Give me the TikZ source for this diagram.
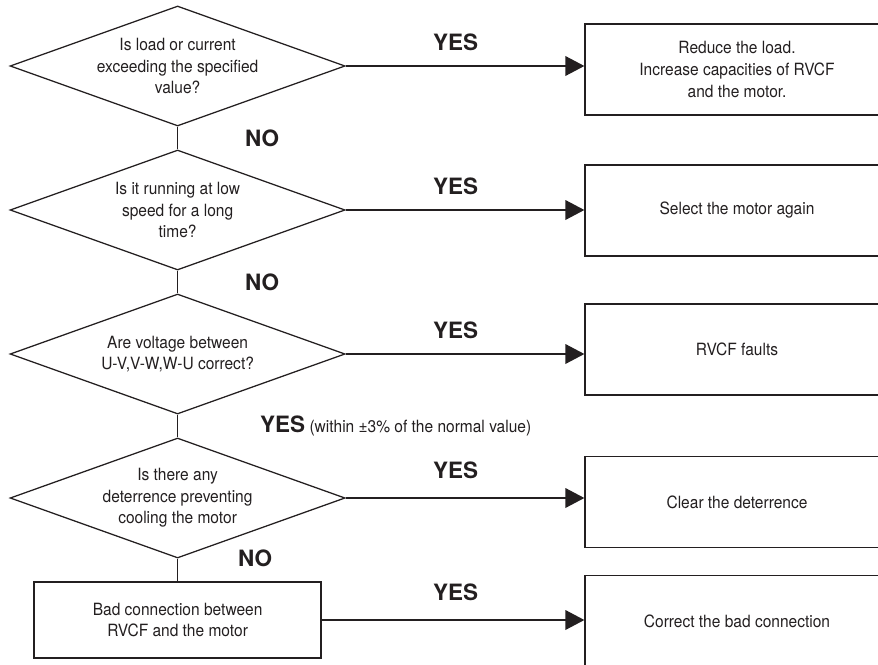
\documentclass[tikz,border=0pt]{standalone}
\usepackage{fontspec}
\setmainfont{TeX Gyre Heros}[FakeStretch=0.92]
\newfontfamily\headfont{TeX Gyre Heros}
\usepackage{xcolor}
\definecolor{lnblack}{RGB}{35,31,32}
\usepackage{tikz}
\usetikzlibrary{shapes.geometric,arrows.meta,positioning}
\newcommand{\answtxt}{\headfont\bfseries\fontsize{16}{19}\selectfont}
\tikzset{
  query/.style={draw=lnblack, diamond, aspect=2.79, inner sep=0pt, minimum width=8.375cm, minimum height=3cm, align=center, line width=0.9pt, text=lnblack, font=\fontsize{12}{15.4}\selectfont},
  proc/.style={draw=lnblack, rectangle, inner sep=0pt, minimum width=7.6cm, minimum height=2.275cm, align=center, line width=0.9pt, text=lnblack, font=\fontsize{12}{15.4}\selectfont},
  link/.style={draw=lnblack, line width=0.9pt},
  arr/.style={link, -{Triangle[length=13.5pt,width=14pt]}},
  answ/.style={inner sep=0pt, text=lnblack, font=\answtxt},
  note/.style={inner sep=0pt, text=lnblack, font=\fontsize{12}{15.4}\selectfont}
}

\begin{document}
\begin{tikzpicture}
  \useasboundingbox (0,0) rectangle (21.95,-16.6);
  \clip (0,0) rectangle (21.95,-16.6);
  \node[query] (q1) at (4.44,-1.65) {Is load or current\\exceeding the specified\\value?};
  \node[query] (q2) at (4.44,-5.25) {Is it running at low\\speed for a long\\time?};
  \node[query] (q3) at (4.44,-8.85) {Are voltage between\\U-V,V-W,W-U correct?};
  \node[query] (q4) at (4.44,-12.45) {Is there any\\deterrence preventing\\cooling the motor};
  \node[proc, minimum width=7.175cm, minimum height=1.9cm] (badconn) at (4.44,-15.5) {Bad connection between\\RVCF and the motor};
  \node[proc] (a1) at (18.425,-1.74) {Reduce the load.\\Increase capacities of RVCF\\and the motor.};
  \node[proc] (a2) at (18.425,-5.26) {Select the motor again};
  \node[proc] (a3) at (18.425,-8.74) {RVCF faults};
  \node[proc] (a4) at (18.425,-12.55) {Clear the deterrence};
  \node[proc] (a5) at (18.425,-15.53) {Correct the bad connection};
  \draw[link] (q1) -- node[answ, right=1.675cm] {NO} (q2);
  \draw[link] (q2) -- node[answ, right=1.675cm] {NO} (q3);
  \draw[link] (q3) -- node[note, right=2.05cm] {{\answtxt YES} (within ±3\% of the normal value)} (q4);
  \draw[link] (q4) -- node[answ, right=1.5cm, yshift=0.29cm] {NO} (badconn);
  \draw[arr] (q1.east) -- node[answ, above=0.36cm, pos=0.46] {YES} (q1.east -| a1.west);
  \draw[arr] (q2.east) -- node[answ, above=0.36cm, pos=0.46] {YES} (q2.east -| a2.west);
  \draw[arr] (q3.east) -- node[answ, above=0.36cm, pos=0.46] {YES} (q3.east -| a3.west);
  \draw[arr] (q4.east) -- node[answ, above=0.47cm, pos=0.46] {YES} (q4.east -| a4.west);
  \draw[arr] (badconn.east) -- node[answ, above=0.47cm, pos=0.51] {YES} (badconn.east -| a5.west);
\end{tikzpicture}
\end{document}
